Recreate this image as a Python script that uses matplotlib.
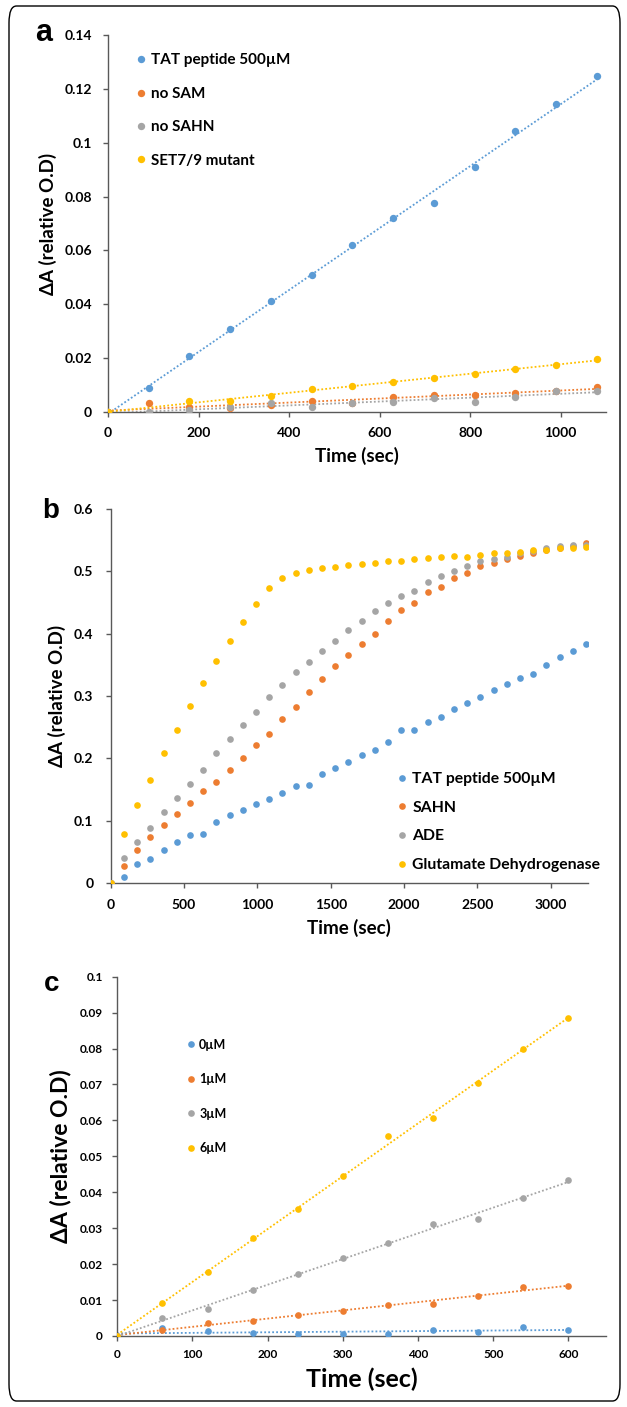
import numpy as np
import matplotlib
matplotlib.use('Agg')
import matplotlib.pyplot as plt
from matplotlib.patches import FancyBboxPatch

plt.rcParams['font.family'] = ['Lato', 'DejaVu Sans']
plt.rcParams['font.weight'] = 'bold'

W, H = 627, 1407
BLUE, ORANGE, GRAY, YELLOW = '#5B9BD5', '#ED7D31', '#A5A5A5', '#FFC000'
AXCOL = '#595959'

# panel a
t_a = [0, 90, 180, 270, 360, 450, 540, 630, 720, 810, 900, 990, 1080]
tat_a = [0, 0.0088, 0.0208, 0.0309, 0.0412, 0.0510, 0.0620, 0.0719, 0.0775, 0.0910, 0.1042, 0.1143, 0.1248]
nosam_a = [0, 0.0033, 0.0019, 0.0016, 0.0025, 0.0040, 0.0035, 0.0056, 0.0062, 0.0063, 0.0069, 0.0079, 0.0094]
nosahn_a = [0, 0.0, 0.0009, 0.0017, 0.0033, 0.0017, 0.0033, 0.0036, 0.0052, 0.0037, 0.0057, 0.0079, 0.0079]
mutant_a = [0, np.nan, 0.0042, 0.0040, 0.0059, 0.0085, 0.0098, 0.0112, 0.0128, 0.0140, 0.0158, 0.0174, 0.0197]
labels_a = ['TAT peptide 500µM', 'no SAM', 'no SAHN', 'SET7/9 mutant']
xticks_a = [0, 200, 400, 600, 800, 1000]
yticks_a = [0, 0.02, 0.04, 0.06, 0.08, 0.1, 0.12, 0.14]
yticklabels_a = ['0', '0.02', '0.04', '0.06', '0.08', '0.1', '0.12', '0.14']

# panel b
t_b = [0, 90, 180, 270, 360, 450, 540, 630, 720, 810, 900, 990, 1080, 1170, 1260,
       1350, 1440, 1530, 1620, 1710, 1800, 1890, 1980, 2070, 2160, 2250, 2340, 2430,
       2520, 2610, 2700, 2790, 2880, 2970, 3060, 3150, 3240]
tat_b = [0, 0.0091, 0.0305, 0.039, 0.053, 0.0664, 0.0777, 0.0793, 0.0975, 0.109, 0.117,
         0.126, 0.1355, 0.145, 0.155, 0.157, 0.175, 0.185, 0.194, 0.205, 0.214, 0.226,
         0.245, 0.246, 0.258, 0.267, 0.279, 0.289, 0.299, 0.309, 0.320, 0.3295, 0.335,
         0.349, 0.362, 0.372, 0.383]
sahn_b = [0, 0.0268, 0.0536, 0.0734, 0.0932, 0.110, 0.129, 0.147, 0.162, 0.182, 0.201,
          0.221, 0.239, 0.2635, 0.283, 0.307, 0.328, 0.348, 0.366, 0.383, 0.400, 0.420,
          0.438, 0.4495, 0.467, 0.475, 0.490, 0.497, 0.508, 0.514, 0.520, 0.525, 0.530,
          0.535, 0.538, 0.541, 0.545]
ade_b = [0, 0.040, 0.0664, 0.089, 0.1136, 0.1366, 0.159, 0.1816, 0.208, 0.231, 0.253,
         0.275, 0.298, 0.318, 0.338, 0.355, 0.372, 0.389, 0.4056, 0.421, 0.437, 0.450,
         0.460, 0.469, 0.483, 0.492, 0.500, 0.508, 0.516, 0.520, 0.523, 0.529, 0.533,
         0.537, 0.540, 0.542, 0.543]
gdh_b = [0, 0.078, 0.125, 0.1655, 0.208, 0.246, 0.284, 0.321, 0.3555, 0.3885, 0.418,
         0.448, 0.4725, 0.490, 0.497, 0.5015, 0.505, 0.507, 0.510, 0.511, 0.514, 0.516,
         0.516, 0.519, 0.521, 0.523, 0.524, 0.523, 0.527, 0.529, 0.529, 0.531, 0.534,
         0.535, 0.537, 0.538, 0.539]
labels_b = ['TAT peptide 500µM', 'SAHN', 'ADE', 'Glutamate Dehydrogenase']
xticks_b = [0, 500, 1000, 1500, 2000, 2500, 3000]
yticks_b = [0, 0.1, 0.2, 0.3, 0.4, 0.5, 0.6]
yticklabels_b = ['0', '0.1', '0.2', '0.3', '0.4', '0.5', '0.6']

# panel c
t_c = [0, 60, 120, 180, 240, 300, 360, 420, 480, 540, 600]
c0 = [0, 0.0022, 0.0014, 0.0009, 0.0005, 0.0005, 0.0006, 0.0017, 0.0012, 0.0026, 0.0016]
c1 = [0, 0.0017, 0.0037, 0.0042, 0.0058, 0.0069, 0.0087, 0.0090, 0.0112, 0.0135, 0.0138]
c3 = [0, 0.0049, 0.0074, 0.0128, 0.0173, 0.0218, 0.0260, 0.0311, 0.0326, 0.0384, 0.0434]
c6 = [0, 0.0093, 0.0177, 0.0272, 0.0353, 0.0444, 0.0558, 0.0608, 0.0704, 0.0799, 0.0885]
labels_c = ['0µM', '1µM', '3µM', '6µM']
xticks_c = [0, 100, 200, 300, 400, 500, 600]
yticks_c = [0, 0.01, 0.02, 0.03, 0.04, 0.05, 0.06, 0.07, 0.08, 0.09, 0.1]
yticklabels_c = ['0', '0.01', '0.02', '0.03', '0.04', '0.05', '0.06', '0.07', '0.08', '0.09', '0.1']

colors = [BLUE, ORANGE, GRAY, YELLOW]


def px_axes(fig, left, right, top, bottom):
    return fig.add_axes([left / W, 1 - bottom / H, (right - left) / W, (bottom - top) / H])


def style(ax, tick_fs, ypad=7, xpad=6):
    for s in ['top', 'right']:
        ax.spines[s].set_visible(False)
    for s in ['left', 'bottom']:
        ax.spines[s].set_color(AXCOL)
        ax.spines[s].set_linewidth(1.0)
    ax.tick_params(direction='out', length=3.5, width=1.0, color=AXCOL,
                   labelsize=tick_fs)
    ax.tick_params(axis='y', pad=ypad)
    ax.tick_params(axis='x', pad=xpad)
    for lab in ax.get_xticklabels() + ax.get_yticklabels():
        lab.set_fontweight('bold')


def trend(ax, x, y, c):
    x = np.asarray(x, float)
    y = np.asarray(y, float)
    m = ~np.isnan(y)
    k, b = np.polyfit(x[m], y[m], 1)
    xx = np.array([x[m].min(), x[m].max()])
    ax.plot(xx, k * xx + b, color=c, lw=1.3, ls=(0, (1, 1.2)), zorder=2)


fig = plt.figure(figsize=(W / 100, H / 100), dpi=100)
fig.patches.append(FancyBboxPatch((9 / W, 6 / H), 611 / W, 1395 / H,
                                  boxstyle='round,pad=0,rounding_size=0.012',
                                  transform=fig.transFigure, fill=False,
                                  ec='black', lw=1.0))

# ---- a
ax = px_axes(fig, 108, 606, 35, 412)
for y, c, lab in zip([tat_a, nosam_a, nosahn_a, mutant_a], colors, labels_a):
    ax.plot(t_a, y, 'o', color=c, ms=5.3, mec='none', label=lab, zorder=3)
for y, c in zip([tat_a, nosam_a, nosahn_a, mutant_a], colors):
    trend(ax, t_a, y, c)
ax.set_xlim(0, 1100)
ax.set_ylim(0, 0.14)
ax.set_xticks(xticks_a)
ax.set_yticks(yticks_a)
ax.set_yticklabels(yticklabels_a)
style(ax, 10, ypad=8, xpad=7)
ax.set_xlabel('Time (sec)', fontsize=13.5, fontweight='bold', labelpad=6)
ax.set_ylabel('ΔA (relative O.D)', fontsize=13.5, fontweight='bold', labelpad=5)
ax.legend(loc='upper left', bbox_to_anchor=(0.054, 0.951), frameon=False,
          handlelength=0.8, handletextpad=0.25, labelspacing=1.27, borderpad=0,
          borderaxespad=0, prop={'size': 11, 'weight': 'bold'})
fig.text(44 / W, 1 - 33 / H, 'a', fontsize=22, fontweight='bold',
         family='Liberation Sans', ha='center', va='center')

# ---- b
ax = px_axes(fig, 110.7, 587.5, 509, 883)
for y, c, lab in zip([tat_b, sahn_b, ade_b, gdh_b], colors, labels_b):
    ax.plot(t_b, y, 'o', color=c, ms=4.8, mec='none', label=lab, zorder=3)
ax.set_xlim(0, 3250)
ax.set_ylim(0, 0.6)
ax.set_xticks(xticks_b)
ax.set_yticks(yticks_b)
ax.set_yticklabels(yticklabels_b)
style(ax, 10, ypad=9, xpad=8)
ax.set_xlabel('Time (sec)', fontsize=13.5, fontweight='bold', labelpad=6)
ax.set_ylabel('ΔA (relative O.D)', fontsize=13.5, fontweight='bold', labelpad=6)
ax.legend(loc='upper left', bbox_to_anchor=(0.598, 0.296), frameon=False,
          handlelength=0.8, handletextpad=0.25, labelspacing=0.93, borderpad=0,
          borderaxespad=0, prop={'size': 11.3, 'weight': 'bold'})
fig.text(51 / W, 1 - 511 / H, 'b', fontsize=20, fontweight='bold',
         family='Liberation Sans', ha='center', va='center')

# ---- c
ax = px_axes(fig, 117.3, 606, 976.7, 1336)
for y, c, lab in zip([c0, c1, c3, c6], colors, labels_c):
    ax.plot(t_c, y, 'o', color=c, ms=4.8, mec='none', label=lab, zorder=3)
for y, c in zip([c0, c1, c3, c6], colors):
    trend(ax, t_c, y, c)
ax.set_xlim(0, 650)
ax.set_ylim(0, 0.1)
ax.set_xticks(xticks_c)
ax.set_yticks(yticks_c)
ax.set_yticklabels(yticklabels_c)
style(ax, 8.5, ypad=7, xpad=6)
ax.set_xlabel('Time (sec)', fontsize=18, fontweight='bold', labelpad=5)
ax.set_ylabel('ΔA (relative O.D)', fontsize=16.5, fontweight='bold', labelpad=6)
ax.legend(loc='upper left', bbox_to_anchor=(0.1406, 0.827), frameon=False,
          handlelength=0.8, handletextpad=0.25, labelspacing=1.79, borderpad=0,
          borderaxespad=0, prop={'size': 9, 'weight': 'bold'})
fig.text(52 / W, 1 - 984 / H, 'c', fontsize=20, fontweight='bold',
         family='Liberation Sans', ha='center', va='center')

fig.savefig('out.png', dpi=100)
